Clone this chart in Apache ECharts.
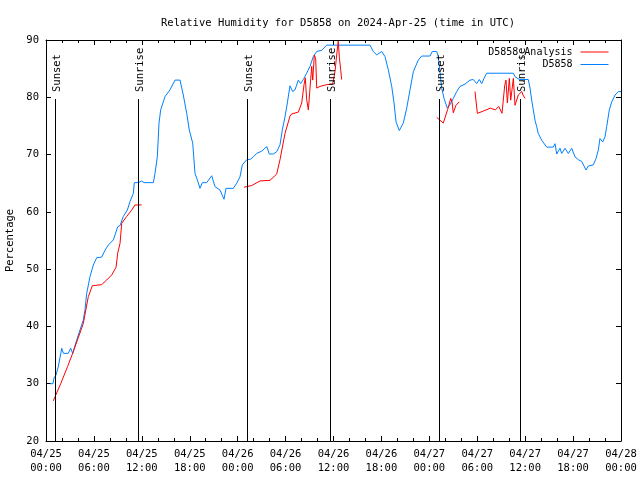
<!DOCTYPE html>
<html><head><meta charset="utf-8">
<script src="https://cdn.jsdelivr.net/npm/echarts@6/dist/echarts.min.js"></script>
<style>html,body{margin:0;padding:0;background:#fff}#c{width:640px;height:480px}</style>
</head><body><div id="c"></div>
<script>
const titleText = 'Relative Humidity for D5858 on 2024-Apr-25 (time in UTC)';
const yAxisName = 'Percentage';
const xTickDays = ['04/25','04/25','04/25','04/25','04/26','04/26','04/26','04/26','04/27','04/27','04/27','04/27','04/28'];
const xTickHours = ['00:00','06:00','12:00','18:00'];

// D5858 observations: hours since 04/25 00:00 UTC, percentage
const obsTimes = [0.50,0.88,1.0,1.25,1.54,1.88,1.97,2.17,2.79,3.09,3.34,3.84,4.26,4.67,4.88,5.10,5.51,5.92,6.35,6.97,7.39,7.80,8.43,8.98,9.27,9.68,10.18,10.52,10.93,11.06,11.56,11.98,12.27,13.44,13.65,13.94,14.15,14.36,14.90,15.53,16.15,16.78,17.19,17.62,17.94,18.37,18.66,18.95,19.28,19.57,20.12,20.75,21.16,21.79,22.29,22.54,23.45,23.88,24.29,24.58,25.13,25.63,25.96,26.38,27.01,27.64,27.96,28.46,28.89,29.30,29.59,29.93,30.22,30.55,30.89,31.18,31.59,31.89,32.22,32.64,33.06,33.47,33.90,34.52,35.15,40.57,40.98,41.41,42.04,42.45,42.86,43.29,43.58,43.83,44.24,44.74,45.17,45.58,46.00,46.62,47.05,48.08,48.37,48.92,49.12,49.34,49.55,49.84,50.25,50.59,51.00,51.43,51.84,52.47,53.09,53.51,53.93,54.26,54.56,54.85,55.18,58.52,58.73,58.94,59.27,60.39,60.61,60.82,61.02,61.23,61.44,61.64,62.07,62.70,63.52,63.74,63.95,64.36,64.57,64.99,65.40,65.83,66.24,66.66,67.08,67.37,67.62,67.91,68.53,68.87,69.16,69.37,69.71,70.00,70.21,70.54,70.84,71.26,71.67,72.0];
const obsValues = [30.0,30.0,31.0,31.5,33.0,35.5,36.2,35.3,35.3,36.2,35.3,37.6,39.4,41.1,42.9,45.8,48.7,50.7,52.0,52.1,53.3,54.2,55.1,57.4,57.6,59.2,60.3,61.8,63.2,65.1,65.1,65.4,65.1,65.1,66.7,69.6,75.5,77.8,80.1,81.3,83.0,83.0,80.4,77.2,74.3,72.0,66.7,65.6,64.1,65.1,65.1,66.3,64.4,63.8,62.2,64.1,64.1,65.0,66.1,68.2,69.1,69.2,69.6,70.2,70.6,71.4,70.1,70.1,70.5,71.7,74.3,76.6,79.0,82.0,81.0,81.3,83.0,82.4,83.1,84.2,85.4,87.1,88.0,88.2,89.1,89.1,88.0,87.4,88.0,87.1,84.8,81.9,79.0,75.7,74.2,75.5,78.1,81.3,84.5,86.5,87.2,87.2,88.0,88.0,87.1,84.2,81.6,79.8,78.1,78.7,79.8,81.0,81.9,82.3,83.0,83.1,82.4,83.1,82.4,83.3,84.2,84.2,83.6,83.6,83.1,83.1,81.6,79.5,77.8,76.0,74.9,73.7,72.5,71.3,71.3,71.9,70.1,71.1,70.2,71.1,70.2,71.1,69.6,69.1,68.8,68.0,67.3,68.0,68.2,69.3,70.8,72.8,72.2,73.1,74.9,77.8,79.2,80.4,81.0,81.0];

// D5858_Analysis (null = gap)
const anaTimes = [0.91,1.87,2.70,3.42,4.67,5.30,5.80,6.97,7.60,8.23,8.77,8.98,9.27,9.48,10.10,10.73,11.14,11.98,12.5,
  24.79,25.76,26.80,28.05,28.89,29.30,29.93,30.55,30.76,31.59,32.02,32.31,32.47,32.64,32.85,33.27,33.40,33.60,33.77,33.90,34.31,35.15,35.90,36.19,36.40,36.60,36.73,36.90,37.02,37.5,
  48.92,49.75,50.30,50.68,50.84,51.00,51.34,51.75,52.5,
  53.72,54.01,54.60,55.64,56.27,56.69,57.10,57.44,57.60,57.77,58.02,58.19,58.35,58.52,58.73,59.14,59.58,59.73,59.86,59.98];
const anaValues = [27.0,30.1,33.0,35.6,40.5,45.2,47.1,47.3,48.1,49.0,50.3,52.8,54.5,58.0,59.2,60.3,61.2,61.2,null,
  64.3,64.6,65.4,65.5,66.6,69.1,73.7,76.7,77.1,77.4,79.0,82.2,83.4,79.6,77.8,85.4,83.0,87.4,86.7,81.6,81.9,82.2,82.3,84.5,87.4,89.8,87.0,84.8,83.1,null,
  76.5,75.5,77.9,79.8,79.2,77.3,78.6,79.2,null,
  81.0,77.2,77.5,78.1,77.8,78.4,77.2,82.1,83.0,79.0,83.3,79.5,81.3,83.3,78.6,80.4,81.0,80.4,80.7,79.8];

const sunTimes = [1.17, 11.56, 25.16, 35.5, 49.2, 59.4];
const sunLabels = ['Sunset','Sunrise','Sunset','Sunrise','Sunset','Sunrise'];
const sunLineTop = 79.7;

const FONT = '"DejaVu Sans Mono", "Liberation Mono", monospace';
const zip = (a, b) => a.map((t, i) => [t, b[i]]);

const chart = echarts.init(document.getElementById('c'), null, {renderer: 'canvas'});
const tickStyle = {show: true, inside: true, length: 5, lineStyle: {color: '#000'}};
const minorStyle = {show: true, splitNumber: 3, length: 3, lineStyle: {color: '#000'}};
chart.setOption({
  animation: false,
  backgroundColor: '#fff',
  title: {text: titleText, left: 333, textAlign: 'center', top: 13,
    textStyle: {fontFamily: FONT, fontSize: 10.5, fontWeight: 'normal', color: '#000'}},
  legend: {
    right: 26, top: 42, orient: 'vertical', align: 'right',
    itemWidth: 28, itemHeight: 10, itemGap: 2.5,
    itemStyle: {opacity: 0, borderWidth: 0},
    lineStyle: {width: 1},
    textStyle: {fontFamily: FONT, fontSize: 10, color: '#000', padding: [0, 3, 0, 0]},
    data: ['D5858_Analysis', 'D5858']
  },
  grid: {left: 46, right: 19, top: 40, bottom: 39, containLabel: false, outerBoundsMode: 'none'},
  xAxis: [{
    type: 'value', min: 0, max: 72, interval: 6, position: 'bottom',
    axisLine: {show: true, onZero: false, lineStyle: {color: '#000'}},
    axisTick: tickStyle, minorTick: minorStyle, splitLine: {show: false},
    axisLabel: {margin: 6, lineHeight: 14, fontFamily: FONT, fontSize: 10.5, color: '#000',
      formatter: v => xTickDays[Math.round(v / 6)] + '\n' + xTickHours[Math.round(v / 6) % 4]}
  }, {
    type: 'value', min: 0, max: 72, interval: 6, position: 'top',
    axisLine: {show: true, onZero: false, lineStyle: {color: '#000'}},
    axisTick: tickStyle, minorTick: minorStyle, splitLine: {show: false},
    axisLabel: {show: false}
  }],
  yAxis: [{
    type: 'value', min: 20, max: 90, interval: 10, position: 'left',
    name: yAxisName, nameLocation: 'middle', nameGap: 30, nameRotate: 90,
    nameTextStyle: {fontFamily: FONT, fontSize: 10.5, color: '#000'},
    axisLine: {show: true, onZero: false, lineStyle: {color: '#000'}},
    axisTick: tickStyle, splitLine: {show: false},
    axisLabel: {margin: 7, fontFamily: FONT, fontSize: 10.5, color: '#000'}
  }, {
    type: 'value', min: 20, max: 90, interval: 10, position: 'right',
    axisLine: {show: true, onZero: false, lineStyle: {color: '#000'}},
    axisTick: tickStyle, splitLine: {show: false}, axisLabel: {show: false}
  }],
  series: [{
    name: 'D5858_Analysis', type: 'line', data: zip(anaTimes, anaValues),
    symbol: 'none', connectNulls: false, color: '#ff0000',
    lineStyle: {width: 1, color: '#ff0000'}, z: 3
  }, {
    name: 'D5858', type: 'line', data: zip(obsTimes, obsValues),
    symbol: 'none', color: '#0080ff',
    lineStyle: {width: 1, color: '#0080ff'}, z: 2
  }, {
    name: 'sun', type: 'custom', data: sunTimes.map(t => [t, 20]), z: 4, silent: true,
    renderItem: (params, api) => {
      const t = api.value(0);
      const p0 = api.coord([t, 20]);
      const p1 = api.coord([t, sunLineTop]);
      const x = Math.round(p0[0]) + 0.5;
      return {type: 'group', children: [
        {type: 'line', shape: {x1: x, y1: p0[1], x2: x, y2: p1[1]},
          style: {stroke: '#000', lineWidth: 1}},
        {type: 'text', x: x + 1.5, y: p1[1] - 7, rotation: Math.PI / 2,
          style: {text: sunLabels[params.dataIndex], fill: '#000', align: 'left', verticalAlign: 'middle',
            font: '10.5px ' + FONT}}
      ]};
    }
  }]
});
</script></body></html>
